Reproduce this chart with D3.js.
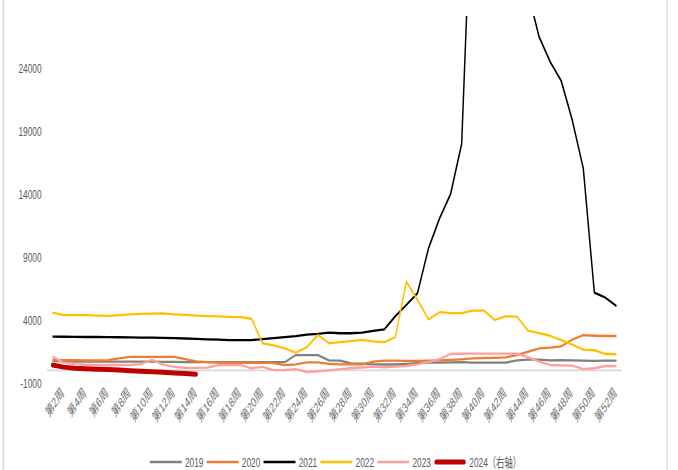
<!DOCTYPE html>
<html><head><meta charset="utf-8">
<script src="https://cdn.jsdelivr.net/npm/d3@7"></script>
<style>html,body{margin:0;padding:0;background:#fff;overflow:hidden}</style>
</head><body>
<svg id="c" width="678" height="470" viewBox="0 0 1060 470" preserveAspectRatio="none"></svg>
<script>
// ---- data ----
const weeks = Array.from({length: 52}, (_, i) => `第${i + 1}周`);
const tickWeeks = weeks.filter((d, i) => i % 2 === 1);
const yTicks = [-1000, 4000, 9000, 14000, 19000, 24000];
const seriesNames = ["2019", "2020", "2021", "2022", "2023", "2024（右轴）"];

const s2019 = [750,720,700,700,690,690,690,690,690,690,680,680,650,650,650,650,650,650,650,650,650,650,
  1220,1220,1220,800,770,560,540,480,470,470,520,580,610,620,640,660,620,620,620,620,800,850,850,800,820,790,770,760,770,770];
const s2020 = [830,820,810,800,800,820,950,1080,1080,1070,1080,1080,900,720,650,620,600,600,600,600,580,420,
  480,640,640,520,480,480,480,700,770,780,760,760,780,800,830,880,950,980,1000,1040,1220,1480,1750,1800,1900,2450,2800,2750,2730,2730];
const s2021 = [2680,2670,2660,2650,2650,2640,2630,2620,2600,2600,2580,2560,2530,2500,2470,2440,2410,2400,2410,2480,2560,2640,
  2720,2840,2900,3000,2950,2950,3000,3130,3260,4300,5200,6120,9690,12070,14000,17970,40900,44000,45000,43000,37000,30000,
  26480,24500,22990,19870,16040,6170,5770,5110];
const s2022 = [4580,4380,4380,4380,4350,4330,4380,4450,4480,4500,4520,4450,4400,4350,4300,4280,4250,4230,4100,2150,1980,1750,
  1400,1850,2810,2150,2250,2330,2420,2300,2250,2630,7040,5600,4050,4620,4550,4550,4750,4750,4000,4300,4260,3150,2950,2750,
  2400,2050,1650,1600,1300,1280];
const s2023 = [1100,620,500,450,430,430,430,430,500,830,450,280,200,200,220,420,430,430,170,280,20,30,
  100,-130,-80,0,100,170,230,300,250,300,350,480,650,900,1300,1320,1330,1330,1330,1330,1320,1050,700,430,400,380,100,170,350,350];
const s2024 = [420,260,170,130,100,70,30,-20,-60,-110,-150,-200,-250,-300];

// ---- layout ----
const K = 1060 / 678;            // horizontal squeeze of the picture
const FONT = "'Liberation Sans', Arial, 'Noto Sans CJK SC', sans-serif";
const svg = d3.select("#c");

const x = d3.scalePoint().domain(weeks).range([47 * K, 622 * K]).padding(0.5);
const y = d3.scaleLinear().domain([-1000, 29000]).range([383, 5]);

// frame
svg.append("line").attr("x1", 3.3 * K).attr("x2", 3.3 * K).attr("y1", 0).attr("y2", 470)
  .attr("stroke", "#d9d9d9").attr("stroke-width", 2.2);
svg.append("line").attr("x1", 667 * K).attr("x2", 667 * K).attr("y1", 0).attr("y2", 470)
  .attr("stroke", "#d9d9d9").attr("stroke-width", 2.2);

svg.append("defs").append("clipPath").attr("id", "clip")
  .append("rect").attr("x", 0).attr("y", 16).attr("width", 1060).attr("height", 454);

// y axis
const gy = svg.append("g").attr("transform", `translate(${47 * K},0)`)
  .call(d3.axisLeft(y).tickValues(yTicks).tickSize(0).tickPadding(5.5 * K).tickFormat(d => String(d)));
gy.select(".domain").remove();
gy.selectAll("text").attr("fill", "#595959").style("font-family", FONT).style("font-size", "13px");

// x axis labels
const gx = svg.append("g").attr("transform", `translate(0,383)`)
  .call(d3.axisBottom(x).tickValues(tickWeeks).tickSize(0));
gx.select(".domain").remove();
gx.selectAll("text")
  .attr("x", 0).attr("y", 0).attr("dy", "0.35em")
  .attr("text-anchor", "end")
  .attr("transform", `translate(${-1.5 * K},7) rotate(-45)`)
  .attr("fill", "#707070").style("font-family", FONT).style("font-size", "13.5px");

// zero line
svg.append("line").attr("x1", 47 * K).attr("x2", 622 * K).attr("y1", y(0)).attr("y2", y(0))
  .attr("stroke", "#d9d9d9").attr("stroke-width", 1.6);

// series
const series = [
  {name: seriesNames[0], values: s2019, color: "#808080", width: 2.3, cap: "butt"},
  {name: seriesNames[1], values: s2020, color: "#ED7D31", width: 2.3, cap: "butt"},
  {name: seriesNames[2], values: s2021, color: "#000000", width: 2.3, cap: "butt"},
  {name: seriesNames[3], values: s2022, color: "#FFC000", width: 2.3, cap: "butt"},
  {name: seriesNames[4], values: s2023, color: "#FF9F9F", width: 2.3, cap: "butt"},
  {name: seriesNames[5], values: s2024, color: "#C00000", width: 5, cap: "round"}
];
const line = d3.line().x((d, i) => x(weeks[i])).y(d => y(d));
const gl = svg.append("g").attr("clip-path", "url(#clip)");
series.forEach(s => {
  gl.append("path").attr("d", line(s.values)).attr("fill", "none")
    .attr("stroke", s.color).attr("stroke-width", s.width)
    .attr("stroke-linejoin", "round").attr("stroke-linecap", s.cap);
});

// legend
const lg = svg.append("g");
let cx = 0;
series.forEach(s => {
  lg.append("line").attr("x1", cx + (s.cap === "round" ? 3 : 0)).attr("x2", cx + 50 - (s.cap === "round" ? 3 : 0))
    .attr("y1", 462).attr("y2", 462)
    .attr("stroke", s.color).attr("stroke-width", s.cap === "round" ? 5 : 2.6).attr("stroke-linecap", s.cap);
  const t = lg.append("text").attr("x", cx + 55).attr("y", 462).attr("dy", "0.35em")
    .attr("fill", "#595959").style("font-family", FONT).style("font-size", "13px").text(s.name);
  cx += 55 + t.node().getComputedTextLength() + 5;
});
lg.attr("transform", `translate(${337 * K - cx / 2},0)`);
</script>
</body></html>
